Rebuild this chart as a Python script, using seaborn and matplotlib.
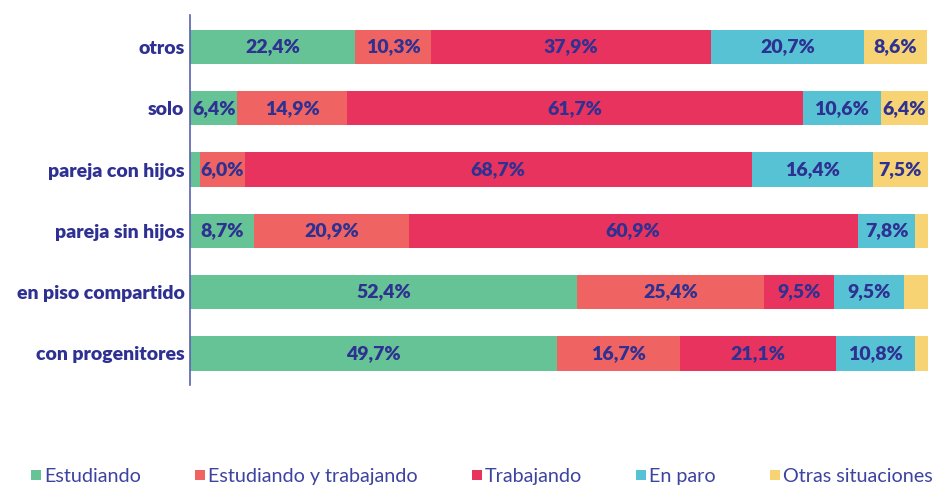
import numpy as np
import pandas as pd
import matplotlib
matplotlib.use("Agg")
import matplotlib.pyplot as plt
from matplotlib.lines import Line2D
import seaborn as sns

categories = ["otros", "solo", "pareja con hijos", "pareja sin hijos",
              "en piso compartido", "con progenitores"]
series = ["Estudiando", "Estudiando y trabajando", "Trabajando", "En paro", "Otras situaciones"]
estudiando = [22.4, 6.4, 1.4, 8.7, 52.4, 49.7]
estudiando_trabajando = [10.3, 14.9, 6.0, 20.9, 25.4, 16.7]
trabajando = [37.9, 61.7, 68.7, 60.9, 9.5, 21.1]
en_paro = [20.7, 10.6, 16.4, 7.8, 9.5, 10.8]
otras = [8.6, 6.4, 7.5, 1.7, 3.2, 1.7]
colors = ["#66c395", "#ef6462", "#e9335f", "#58c2d5", "#f7d373"]

values = [estudiando, estudiando_trabajando, trabajando, en_paro, otras]
TXT = "#2e3192"

sns.set_theme(style="white")
plt.rcParams['font.family'] = ['Lato', 'DejaVu Sans']

fig = plt.figure(figsize=(9.32, 4.87), dpi=100)
ax = fig.add_axes([0.204, 0.209, 0.7917, 0.760])

vals = np.array(values)
cum = np.cumsum(vals, axis=0)
for i in range(len(series) - 1, -1, -1):
    df = pd.DataFrame({"cat": categories, "val": cum[i]})
    sns.barplot(data=df, x="val", y="cat", order=categories, color=colors[i],
                orient="h", width=0.56, saturation=1, ax=ax, linewidth=0)

for i in range(len(series)):
    for j, c in enumerate(categories):
        v = vals[i, j]
        if v >= 5:
            start = cum[i, j] - v
            ax.text(start + v / 2, j, f"{v:.1f}%".replace(".", ","),
                    ha="center", va="center", color=TXT, fontsize=14,
                    fontweight="heavy")

ax.set_xlim(0, 100)
ax.set_ylim(5.52, -0.52)
ax.set_xlabel("")
ax.set_ylabel("")
ax.set_xticks([])
for s in ["top", "right", "bottom"]:
    ax.spines[s].set_visible(False)
ax.spines["left"].set_color("#5a60b0")
ax.spines["left"].set_linewidth(1.2)
ax.tick_params(axis="y", length=0, pad=4)
for lab in ax.get_yticklabels():
    lab.set_color(TXT)
    lab.set_fontsize(14)
    lab.set_fontweight("heavy")

handles = [Line2D([0], [0], marker="s", linestyle="", markersize=7,
                  markerfacecolor=c, markeredgewidth=0) for c in colors]
fig.legend(handles, series, loc="center left", bbox_to_anchor=(0.0135, 0.021),
           ncol=5, frameon=False, fontsize=14.2, handletextpad=0.1,
           columnspacing=2.7, labelcolor="#3d43a0", handlelength=0.6,
           borderpad=0.4)

fig.savefig("out.png", dpi=100)
